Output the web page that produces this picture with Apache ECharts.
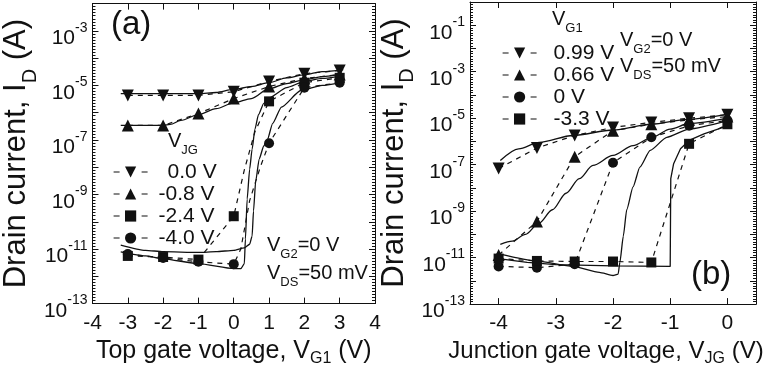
<!DOCTYPE html>
<html><head><meta charset="utf-8">
<script src="https://cdn.jsdelivr.net/npm/echarts@6/dist/echarts.min.js"></script>
<style>html,body{margin:0;padding:0;background:#fff}#c{width:770px;height:372px}</style>
</head><body><div id="c"></div>
<script>
const FONT = '"Liberation Sans", Arial, sans-serif';
const INK = '#111';

// ---------------- Panel (a): I_D vs V_G1, parameter V_JG ----------------
const aVG1 = [-3, -2, -1, 0, 1, 2, 3];
const aNames = ['0.0 V', '-0.8 V', '-2.4 V', '-4.0 V'];
const aMark0  = [4.3e-6, 4.3e-6, 4.3e-6, 5.9e-6, 1.4e-5, 2.7e-5, 3.5e-5];
const aMark08 = [3.4e-7, 3.4e-7, 9.3e-7, 3.3e-6, 9.1e-6, 1.8e-5, 2.5e-5];
const aMark24 = [5.6e-12, 5.1e-12, 4.1e-12, 1.6e-10, 2.6e-6, 1.26e-5, 1.9e-5];
const aMark40 = [6.6e-12, 4.7e-12, 3.4e-12, 2.8e-12, 7.6e-8, 8.3e-6, 1.26e-5];
// extra points on the dashed curves between markers [V_G1, I_D]
const aDash24Extra = [[0.3, 8.0e-9], [0.6, 2.0e-7]];
const aDash40Extra = [[0.2, 1.0e-11], [0.45, 6.0e-10], [0.75, 1.0e-8]];
// solid (measured) curves [V_G1, I_D]
const aSolid0  = [[-3.2,5.0e-6],[-2,5.0e-6],[-1,5.0e-6],[-0.5,5.5e-6],[0,7.1e-6],[0.5,9.1e-6],[1,1.26e-5],[1.5,1.9e-5],[2,2.45e-5],[2.5,3.2e-5],[3.1,3.8e-5]];
const aSolid08 = [[-3.2,3.4e-7],[-2,3.4e-7],[-1.8,3.7e-7],[-1.5,5.2e-7],[-1,8.5e-7],[-0.5,1.4e-6],[0,2.3e-6],[0.5,3.3e-6],[1,7.6e-6],[1.5,1.17e-5],[2,1.6e-5],[2.5,2.1e-5],[3.1,2.7e-5]];
const aSolid24 = [[-3.2,7.9e-12],[-2.5,5.6e-12],[-2,4.4e-12],[-1,2.9e-12],[0,1.9e-12],[0.2,1.9e-12],[0.3,2.9e-12],[0.33,2.3e-11],[0.38,6.8e-10],[0.45,8.5e-9],[0.52,4.6e-8],[0.6,2.5e-7],[0.7,8.5e-7],[0.85,2.2e-6],[1,3.5e-6],[1.5,8.3e-6],[2,1.4e-5],[2.5,1.8e-5],[3.1,2.3e-5]];
const aSolid40 = [[-3.2,1.4e-11],[-2.5,9.0e-12],[-2,8.0e-12],[-1,7.5e-12],[-0.5,8.0e-12],[0,9.0e-12],[0.3,1.1e-11],[0.45,1.5e-11],[0.52,3.0e-11],[0.56,2.5e-10],[0.62,3.0e-9],[0.72,2.0e-8],[0.85,6.0e-8],[0.95,1.0e-7],[1.1,4.0e-7],[1.35,1.6e-6],[1.9,6.5e-6],[2.5,1.0e-5],[3.1,1.3e-5]];

// ---------------- Panel (b): I_D vs V_JG, parameter V_G1 ----------------
const bVJG = [-4, -3.33, -2.67, -2, -1.33, -0.67, 0];
const bNames = ['0.99 V', '0.66 V', '0 V', '-3.3 V'];
const bMark099 = [6.8e-8, 5.2e-7, 1.8e-6, 4.0e-6, 6.6e-6, 1.0e-5, 1.4e-5];
const bMark066 = [1.3e-11, 3.6e-10, 2.2e-7, 2.9e-6, 5.5e-6, 8.5e-6, 1.17e-5];
const bMark0   = [4.2e-12, 3.7e-12, 5.2e-12, 1.2e-7, 1.5e-6, 4.7e-6, 8.1e-6];
const bMark33  = [9.1e-12, 7.2e-12, 6.8e-12, 6.8e-12, 6.2e-12, 7.9e-7, 5.5e-6];
const bSolid099 = [[-3.97,1.5e-7],[-3.65,4.8e-7],[-3.29,9.1e-7],[-2.7,1.8e-6],[-2,3.1e-6],[-1.33,5.5e-6],[-0.67,9.1e-6],[0,1.5e-5]];
const bSolid066 = [[-3.97,3.7e-11],[-3.76,5.1e-11],[-3.53,1.0e-10],[-3.29,3.1e-10],[-3.06,1.15e-9],[-2.82,5.9e-9],[-2.59,2.5e-8],[-2.35,9.3e-8],[-2.0,2.5e-7],[-1.65,6.6e-7],[-1.32,1.5e-6],[-1.0,3.4e-6],[-0.67,5.9e-6],[0,1.0e-5]];
const bSolid0   = [[-3.97,1.4e-11],[-3.35,7.2e-12],[-2.7,4.2e-12],[-2.24,2.3e-12],[-2,1.7e-12],[-1.91,1.95e-12],[-1.88,6.2e-12],[-1.82,8.3e-11],[-1.76,1.15e-9],[-1.65,1.1e-8],[-1.53,7.9e-8],[-1.35,4.1e-7],[-1.06,1.5e-6],[-0.67,3.4e-6],[0,7.8e-6]];
const bSolid33  = [[-3.97,8.9e-12],[-3.5,6.3e-12],[-3,5.0e-12],[-2,4.4e-12],[-1,4.2e-12],[-0.99,2.5e-8],[-0.94,1.1e-7],[-0.82,4.8e-7],[-0.67,1.1e-6],[-0.41,2.1e-6],[0,4.7e-6]];

// ---------------- helpers ----------------
const lg = v => Math.log10(v);
function markerData(xs, ys, extra) {
  const d = xs.map((x, i) => ({ value: [x, lg(ys[i])] }));
  (extra || []).forEach(p => d.push({ value: [p[0], lg(p[1])], symbol: 'none' }));
  d.sort((p, q) => p.value[0] - q.value[0]);
  return d;
}
const SYM = [
  { symbol: 'triangle', rot: 180 },
  { symbol: 'triangle', rot: 0 },
  { symbol: 'rect', rot: 0 },
  { symbol: 'circle', rot: 0 }
];
function dashed(name, panel, xs, ys, k, extra) {
  return {
    type: 'line', name, xAxisIndex: panel * 2, yAxisIndex: panel * 2,
    data: markerData(xs, ys, extra),
    symbol: SYM[k].symbol, symbolRotate: SYM[k].rot,
    symbolSize: SYM[k].symbol === 'triangle' ? 12 : 10,
    showAllSymbol: true,
    lineStyle: { color: INK, width: 1.2, type: [5, 5] },
    itemStyle: { color: INK },
    z: 4
  };
}
function solid(panel, arr, smooth) {
  return {
    type: 'line', name: 'solid' + panel, xAxisIndex: panel * 2, yAxisIndex: panel * 2,
    data: arr.map(p => [p[0], lg(p[1])]),
    symbol: 'none', smooth: smooth, smoothMonotone: 'x',
    lineStyle: { color: INK, width: 1.3 },
    z: 3, silent: true
  };
}
const tok = (fs, pad, lh) => ({ fontSize: fs, fontFamily: FONT, color: INK, fill: INK, verticalAlign: 'top', padding: [pad, 0, 0, 0], lineHeight: lh });
const richTick = { b: tok(21, 12, 30), s: tok(14, 5, 30) };     // 10^x labels
const richSub  = { t: tok(20, 0, 30), u: tok(13, 12.5, 30) };   // in-plot texts
const richXNameA = { t: tok(25, 0, 34), u: tok(16, 12.5, 34) };
const richXNameB = { t: tok(24, 0, 34), u: tok(16, 12, 34) };
const richYName = { t: tok(31, 0, 42), u: tok(20, 19, 42) };

function yLabel(v) {
  const n = Math.round(v);
  return (Math.abs(n) % 2 === 1) ? '{b|10}{s|' + n + '}' : '';
}
const axLine = { show: true, onZero: false, lineStyle: { color: INK, width: 1 } };
function xAxes(grid, min, max, name, split, rich, pad) {
  const common = {
    gridIndex: grid, type: 'value', min, max,
    axisLine: axLine,
    axisTick: { show: true, inside: true, length: 6, lineStyle: { color: INK } },
    splitLine: { show: false }
  };
  if (split.interval) common.interval = split.interval; else common.splitNumber = split.n;
  return [
    Object.assign({}, common, {
      position: 'bottom',
      axisLabel: { fontSize: 21, fontFamily: FONT, color: INK, margin: 9,
        formatter: v => (Math.abs(v - Math.round(v)) < 1e-9 ? String(Math.round(v)) : '') },
      name, nameLocation: 'middle', nameGap: 33,
      nameTextStyle: { rich, padding: pad }
    }),
    Object.assign({}, common, { position: 'top', axisLabel: { show: false } })
  ];
}
function yAxes(grid, min, max, nameGap) {
  const common = {
    gridIndex: grid, type: 'value', min, max, interval: 1,
    axisLine: axLine,
    axisTick: { show: true, inside: true, length: 6, lineStyle: { color: INK } },
    minorTick: { show: true, splitNumber: 9, length: 3, lineStyle: { color: INK } },
    splitLine: { show: false }
  };
  return [
    Object.assign({}, common, {
      position: 'left',
      axisLabel: { margin: 5, formatter: yLabel, rich: richTick },
      name: '{t|Drain current, I}{u|D}{t| (A)}', nameLocation: 'middle', nameGap,
      nameTextStyle: { rich: richYName }
    }),
    Object.assign({}, common, { position: 'right', axisLabel: { show: false } })
  ];
}
function gtext(left, top, text) {
  return { type: 'text', left, top, z: 10,
    style: { text, rich: richSub, fill: INK, fontSize: 20, fontFamily: FONT } };
}

const series = [
  solid(0, aSolid0, 0.3), solid(0, aSolid08, 0.3), solid(0, aSolid24, 0.2), solid(0, aSolid40, 0.2),
  dashed(aNames[0], 0, aVG1, aMark0, 0),
  dashed(aNames[1], 0, aVG1, aMark08, 1),
  dashed(aNames[2], 0, aVG1, aMark24, 2, aDash24Extra),
  dashed(aNames[3], 0, aVG1, aMark40, 3, aDash40Extra),
  solid(1, bSolid099, 0.3), solid(1, bSolid066, 0.3), solid(1, bSolid0, 0.2), solid(1, bSolid33, false),
  dashed(bNames[0], 1, bVJG, bMark099, 0),
  dashed(bNames[1], 1, bVJG, bMark066, 1),
  dashed(bNames[2], 1, bVJG, bMark0, 3),
  dashed(bNames[3], 1, bVJG, bMark33, 2)
];

const legendText = { fontSize: 21, fontFamily: FONT, color: INK, lineHeight: 22, rich: { p: { width: 9 } } };
const legendCommon = {
  orient: 'vertical', itemWidth: 34, itemHeight: 14, itemGap: 0,
  lineStyle: { type: [6, 22], width: 1.2 },
  selectedMode: false
};

const option = {
  animation: false,
  backgroundColor: '#fff',
  grid: [
    { left: 87, top: 3.6, width: 288, height: 301.4 },
    { left: 470, top: 2, width: 286, height: 303 }
  ],
  xAxis: [
    ...xAxes(0, -4, 4, '{t|Top gate voltage, V}{u|G1}{t| (V)}', { interval: 1 }, richXNameA, 0),
    ...xAxes(1, -4.5, 0.5, '{t|Junction gate voltage, V}{u|JG}{t| (V)}', { n: 5 }, richXNameB, [0, 14, 0, 0])
  ],
  yAxis: [
    ...yAxes(0, -13, -2, 38),
    ...yAxes(1, -13, 0, 43)
  ],
  legend: [
    Object.assign({}, legendCommon, { left: 108, top: 156, data: aNames,
      formatter: n => (n === '0.0 V' ? '{p|}' + n : n),
      textStyle: Object.assign({}, legendText, { padding: [0, 0, 0, 6] }) }),
    Object.assign({}, legendCommon, { left: 497, top: 37, data: bNames,
      textStyle: Object.assign({}, legendText, { padding: [0, 0, 0, 12] }) })
  ],
  graphic: [
    { type: 'text', left: 111, top: 8, style: { text: '(a)', fontSize: 33, fontFamily: FONT, fill: INK } },
    { type: 'text', left: 691, top: 258, style: { text: '(b)', fontSize: 33, fontFamily: FONT, fill: INK } },
    gtext(168, 131, '{t|V}{u|JG}'),
    gtext(267, 235, '{t|V}{u|G2}{t|=0 V}'),
    gtext(267, 263, '{t|V}{u|DS}{t|=50 mV}'),
    gtext(552, 9, '{t|V}{u|G1}'),
    gtext(620, 30, '{t|V}{u|G2}{t|=0 V}'),
    gtext(620, 56, '{t|V}{u|DS}{t|=50 mV}')
  ],
  series
};
echarts.init(document.getElementById('c')).setOption(option);
</script>
</body></html>
